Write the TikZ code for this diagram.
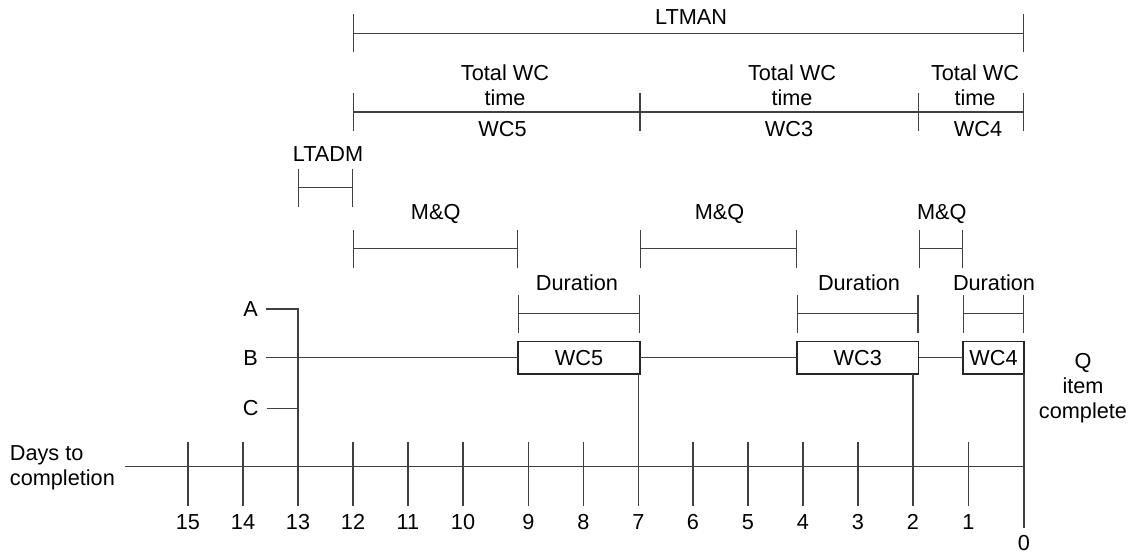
\documentclass[tikz,border=0pt]{standalone}
\usepackage{fontspec}
\setmainfont{Liberation Sans}
\usetikzlibrary{arrows.meta,positioning}

\begin{document}
\begin{tikzpicture}[x=0.5pt,y=-0.5pt,
    lbl/.style={font=\fontsize{10.85}{12.4}\selectfont, align=center, inner sep=0pt},
    bar/.style={draw=black!75, line width=0.6pt},
    dim/.style={bar, {Bar[width=19pt]}-{Bar[width=19pt]}},
    wcbox/.style={draw=black!85, line width=0.6pt, fill=white, inner sep=0pt, outer sep=0pt, minimum height=16.15pt, font=\fontsize{10.85}{12.4}\selectfont}
]
\useasboundingbox (0,0) rectangle (1128,553);

% rows of the bars
\coordinate (rMAN) at (0,33.3);
\coordinate (rWC) at (0,112);
\coordinate (rADM) at (0,187.5);
\coordinate (rMQ) at (0,248.5);
\coordinate (rDur) at (0,313.5);

% days axis
\coordinate (axstart) at (125,466.7);
\coordinate (d0) at (1024,466.7);
\coordinate (d0end) at (1024,528);
\foreach \n/\x in {15/188,14/243,13/298,12/353,11/408,10/463,9/528.5,8/583.5,7/638.5,6/693,5/748,4/803,3/858,2/913,1/968.5} {
  \coordinate (d\n) at (\x,466.7);
  \draw[bar] (\x,441.5) -- (\x,506);
  \node[lbl] (n\n) at (\x,522) {\n};
}
\draw[bar] (axstart) -- (d0);
\node[lbl] (n0) at (1024,543) {0};
\node[lbl, align=left, anchor=west] (days) at (9.5,467.5) {Days to\\completion};

% work centres
\node[wcbox, minimum width=61pt] (wc5) at (579,357.8) {WC5};
\node[wcbox, minimum width=60.75pt] (wc3) at (857.75,357.8) {WC3};
\node[wcbox, minimum width=30.5pt] (wc4) at (993.5,357.8) {WC4};

\node[lbl, inner sep=4pt] (A) at (250.7,309) {A};
\node[lbl, inner sep=4pt] (B) at (250.7,357.8) {B};
\node[lbl, inner sep=4pt] (C) at (250.7,408.5) {C};
\draw[bar] (A.east) -| (d13);
\draw[bar] (C.east) -- (C.east -| d13);
\draw[bar] (B.east) -- (wc5.west);
\draw[bar] (wc5.east) -- (wc3.west);
\draw[bar] (wc3.east) -- (wc4.west);
\draw[bar] (wc5.south -| d7) -- (d7);
\draw[bar] (wc3.south -| d2) -- (d2);
\draw[bar] (wc4.south east) -- (d0end);
\node[lbl] (qdone) at (1083,388) {Q\\item\\complete};

% lead time bars
\draw[dim] (d12 |- rMAN) -- (d0 |- rMAN);
\node[lbl] (lman) at (691,17) {LTMAN};

\draw[dim] (d12 |- rWC) -- (d0 |- rWC);
\draw[bar] ([yshift=9.5pt]wc5.east |- rWC) -- ([yshift=-9.5pt]wc5.east |- rWC);
\draw[bar] ([yshift=9.5pt]wc3.east |- rWC) -- ([yshift=-9.5pt]wc3.east |- rWC);
\node[lbl] (tw5) at (505,85.5) {Total WC\\time};
\node[lbl] (tw3) at (792,85.5) {Total WC\\time};
\node[lbl] (tw4) at (975,85.5) {Total WC\\time};
\node[lbl] (lw5) at (502.5,129) {WC5};
\node[lbl] (lw3) at (789,129) {WC3};
\node[lbl] (lw4) at (978,129) {WC4};

\draw[dim] (d13 |- rADM) -- (d12 |- rADM);
\node[lbl] (ladm) at (328,154) {LTADM};

\draw[dim] (d12 |- rMQ) -- (wc5.west |- rMQ);
\draw[dim] (wc5.east |- rMQ) -- (wc3.west |- rMQ);
\draw[dim] (wc3.east |- rMQ) -- (wc4.west |- rMQ);
\node[lbl] (mq5) at (435.7,214) {M\&Q};
\node[lbl] (mq3) at (719.5,214) {M\&Q};
\node[lbl] (mq4) at (941.7,214) {M\&Q};

\draw[dim] (wc5.west |- rDur) -- (wc5.east |- rDur);
\draw[dim] (wc3.west |- rDur) -- (wc3.east |- rDur);
\draw[dim] (wc4.west |- rDur) -- (wc4.east |- rDur);
\node[lbl] (du5) at (577,283) {Duration};
\node[lbl] (du3) at (859,283) {Duration};
\node[lbl] (du4) at (994,283) {Duration};
\end{tikzpicture}
\end{document}
